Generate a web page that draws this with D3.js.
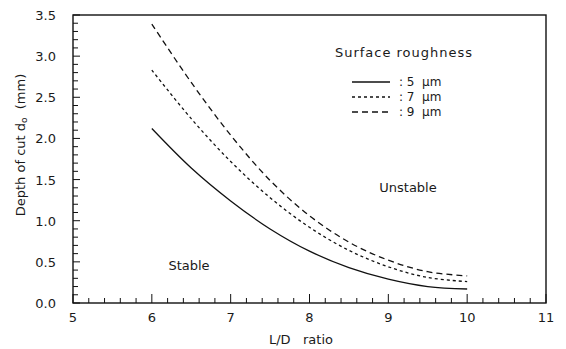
<!DOCTYPE html>
<html>
<head>
<meta charset="utf-8">
<script src="https://cdn.jsdelivr.net/npm/d3@7"></script>
<style>
  body { margin: 0; background: #fff; }
  text { font-family: "DejaVu Sans", sans-serif; fill: #1a1a1a; }
</style>
</head>
<body>
<svg id="chart" width="566" height="349"></svg>
<script>
// L/D ratio values where the curves were read
const ldRatio = [6, 6.5, 7, 7.5, 8, 8.5, 9, 9.5, 10];
// critical depth of cut (mm) for each surface roughness
const depth5um = [2.12, 1.64, 1.24, 0.90, 0.63, 0.43, 0.29, 0.20, 0.17];
const depth7um = [2.83, 2.24, 1.72, 1.28, 0.92, 0.64, 0.44, 0.31, 0.26];
const depth9um = [3.39, 2.68, 2.04, 1.49, 1.06, 0.74, 0.52, 0.38, 0.33];
const seriesNames = [": 5  \u00b5m", ": 7  \u00b5m", ": 9  \u00b5m"];
const xTicks = [5, 6, 7, 8, 9, 10, 11];
const yTicks = [0, 0.5, 1.0, 1.5, 2.0, 2.5, 3.0, 3.5];

const margin = { top: 15, right: 20, bottom: 46, left: 73 };
const width = 566, height = 349;

const svg = d3.select("#chart");

const x = d3.scaleLinear().domain([5, 11]).range([margin.left, width - margin.right]);
const y = d3.scaleLinear().domain([0, 3.5]).range([height - margin.bottom, margin.top]);

const series = [
  { values: depth5um, dash: null },
  { values: depth7um, dash: "3,3" },
  { values: depth9um, dash: "6,4" }
];

// frame
svg.append("rect")
  .attr("x", x(5)).attr("y", y(3.5))
  .attr("width", x(11) - x(5)).attr("height", y(0) - y(3.5))
  .attr("fill", "none").attr("stroke", "#111").attr("stroke-width", 1.4);

// minor / major ticks, pointing inward
const xMinor = d3.range(5, 11.001, 0.2);
svg.append("g").selectAll("line").data(xMinor).enter().append("line")
  .attr("x1", d => x(d)).attr("x2", d => x(d))
  .attr("y1", y(0))
  .attr("y2", d => y(0) - (Math.abs(d - Math.round(d)) < 1e-6 ? 9 : 5))
  .attr("stroke", "#111").attr("stroke-width", 1);

const yMinor = d3.range(0, 3.501, 0.1);
svg.append("g").selectAll("line").data(yMinor).enter().append("line")
  .attr("y1", d => y(d)).attr("y2", d => y(d))
  .attr("x1", x(5))
  .attr("x2", d => x(5) + (Math.abs(d * 2 - Math.round(d * 2)) < 1e-6 ? 7 : 5))
  .attr("stroke", "#111").attr("stroke-width", 1);

// tick labels
svg.append("g").selectAll("text").data(xTicks).enter().append("text")
  .attr("x", d => x(d)).attr("y", y(0) + 19)
  .attr("text-anchor", "middle").attr("font-size", 13)
  .text(d => d);

svg.append("g").selectAll("text").data(yTicks).enter().append("text")
  .attr("x", x(5) - 17).attr("y", d => y(d) + 5)
  .attr("text-anchor", "end").attr("font-size", 13)
  .text(d => d3.format(".1f")(d));

// axis titles
svg.append("text")
  .attr("x", 301).attr("y", 344)
  .attr("text-anchor", "middle").attr("font-size", 13)
  .attr("xml:space", "preserve")
  .text("L/D   ratio");

const yTitle = svg.append("text")
  .attr("transform", "translate(25,145) rotate(-90)")
  .attr("text-anchor", "middle").attr("font-size", 13)
  .attr("xml:space", "preserve");
yTitle.append("tspan").text("Depth of cut d");
yTitle.append("tspan").attr("font-size", 9).attr("dy", 2).text("o");
yTitle.append("tspan").attr("dy", -2).text("  (mm)");

// curves
const line = d3.line()
  .x((d, i) => x(ldRatio[i]))
  .y(d => y(d))
  .curve(d3.curveCatmullRom);

svg.append("g").selectAll("path").data(series).enter().append("path")
  .attr("d", d => line(d.values))
  .attr("fill", "none").attr("stroke", "#111").attr("stroke-width", 1.3)
  .attr("stroke-dasharray", d => d.dash);

// region labels
svg.append("text").attr("x", 189).attr("y", 270)
  .attr("text-anchor", "middle").attr("font-size", 13).text("Stable");
svg.append("text").attr("x", 408).attr("y", 192)
  .attr("text-anchor", "middle").attr("font-size", 13).text("Unstable");

// legend
svg.append("text").attr("x", 404).attr("y", 57)
  .attr("text-anchor", "middle").attr("font-size", 13)
  .attr("letter-spacing", 1).text("Surface roughness");

const legend = svg.append("g").selectAll("g").data(series).enter().append("g")
  .attr("transform", (d, i) => `translate(352,${82 + i * 15})`);
legend.append("line")
  .attr("x1", 0).attr("x2", 38).attr("y1", 0).attr("y2", 0)
  .attr("stroke", "#111").attr("stroke-width", 1.3)
  .attr("stroke-dasharray", d => d.dash);
legend.append("text")
  .attr("x", 47).attr("y", 4).attr("font-size", 12)
  .attr("xml:space", "preserve")
  .text((d, i) => seriesNames[i]);
</script>
</body>
</html>
